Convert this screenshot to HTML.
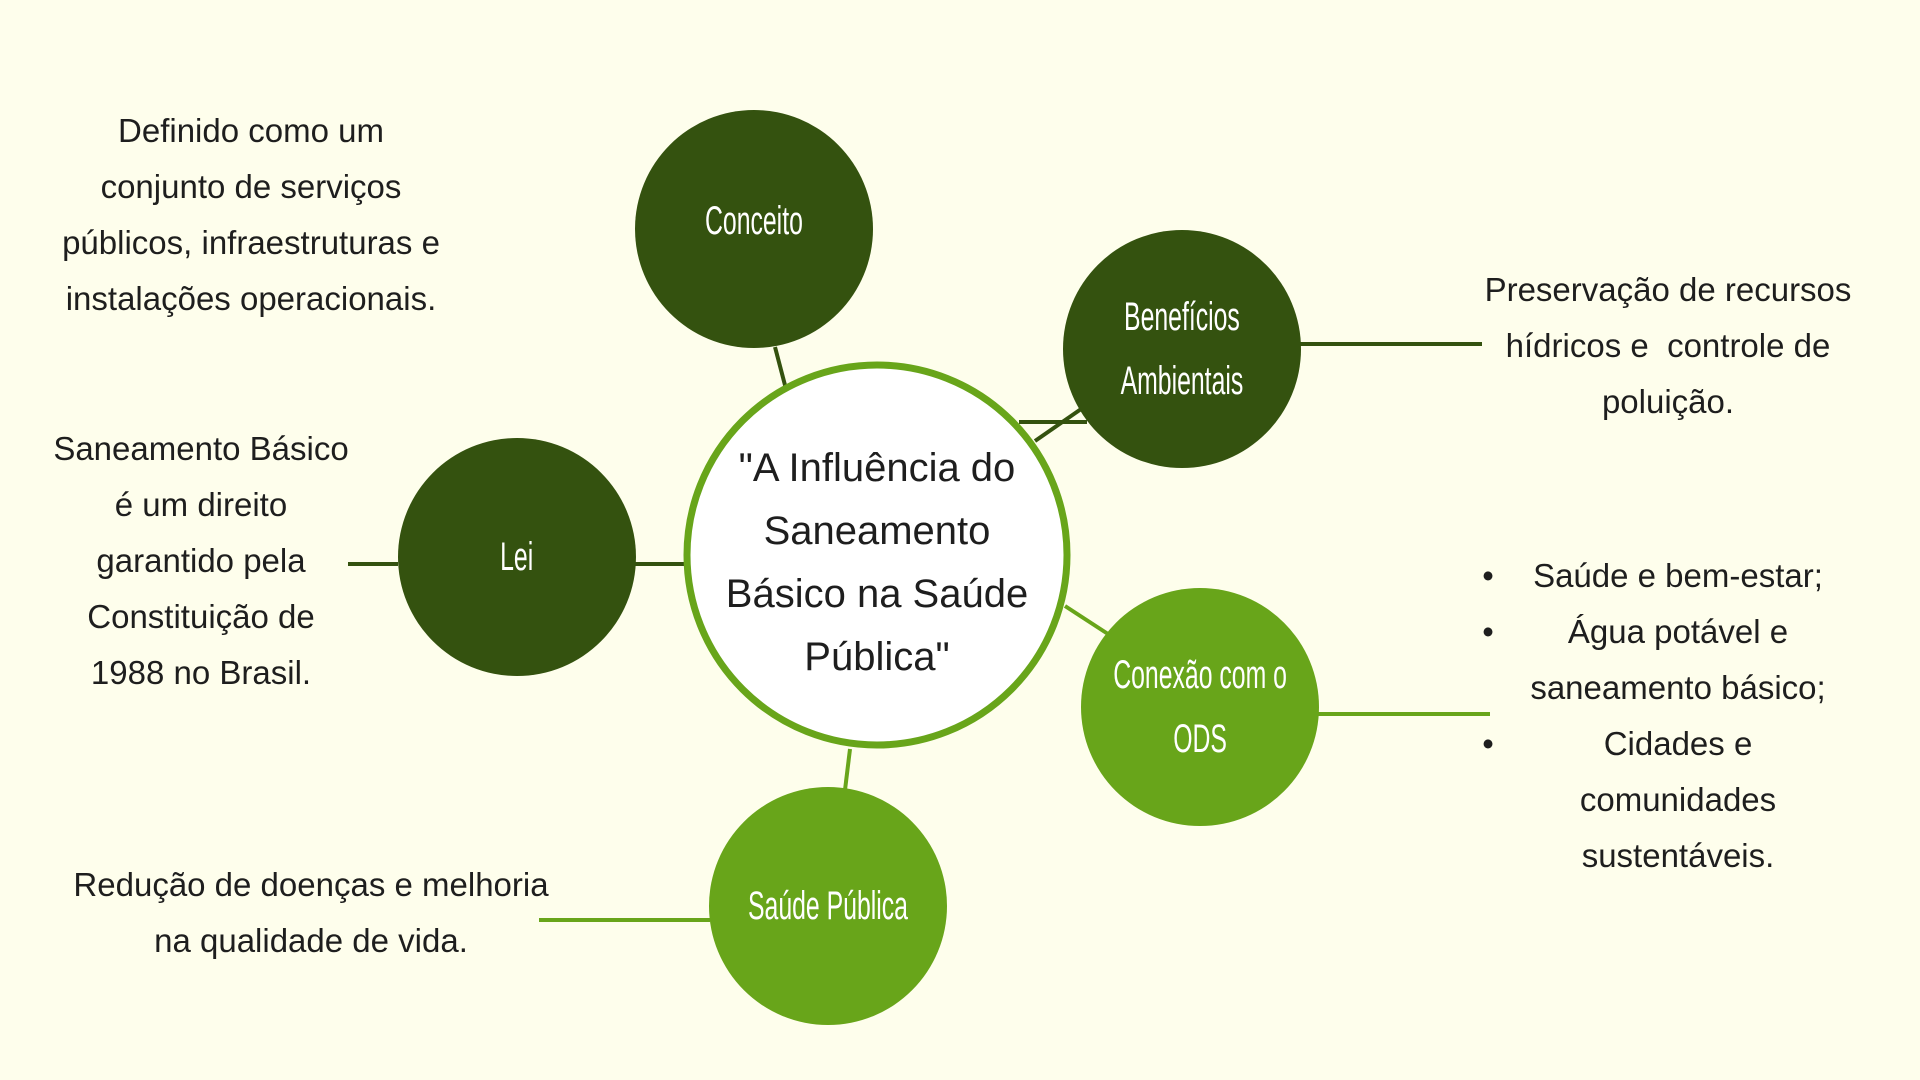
<!DOCTYPE html>
<html><head><meta charset="utf-8"><style>
html,body{margin:0;padding:0}
body{width:1920px;height:1080px;background:#fefeec;position:relative;overflow:hidden;font-family:"Liberation Sans",sans-serif;color:#1e1e1e}
.t{position:absolute;text-align:center;font-size:33px;line-height:56px;white-space:nowrap;transform:translateX(-50%)}
.c{position:absolute;border-radius:50%;display:flex;align-items:center;justify-content:center;text-align:center;color:#fff;font-family:"Liberation Sans",sans-serif;font-size:40px;line-height:64px;white-space:nowrap}
.c span{display:inline-block;transform:scaleX(0.62)}
.d{background:#34520f}.l{background:#68a51a}
svg{position:absolute;left:0;top:0}
</style></head><body>
<svg width="1920" height="1080">
<g stroke-width="4" fill="none">
<line x1="775" y1="347" x2="786" y2="389" stroke="#34520f"/>
<line x1="1019" y1="422" x2="1087" y2="422" stroke="#34520f"/>
<line x1="1035" y1="441" x2="1084" y2="407" stroke="#34520f"/>
<line x1="1298" y1="344" x2="1482" y2="344" stroke="#34520f"/>
<line x1="348" y1="564" x2="398" y2="564" stroke="#34520f"/>
<line x1="634" y1="564" x2="686" y2="564" stroke="#34520f"/>
<line x1="1065" y1="606" x2="1108" y2="634" stroke="#68a51a"/>
<line x1="1316" y1="714" x2="1490" y2="714" stroke="#68a51a"/>
<line x1="850" y1="749" x2="845" y2="790" stroke="#68a51a"/>
<line x1="539" y1="920" x2="710" y2="920" stroke="#68a51a"/>
</g>
<circle cx="877" cy="555" r="190" fill="#fff" stroke="#68a51a" stroke-width="7"/>
</svg>
<div class="c d" style="left:635px;top:110px;width:238px;height:238px"><span style="margin-top:-16px">Conceito</span></div>
<div class="c d" style="left:1063px;top:230px;width:238px;height:238px"><span>Benefícios<br>Ambientais</span></div>
<div class="c d" style="left:398px;top:438px;width:238px;height:238px"><span>Lei</span></div>
<div class="c l" style="left:1081px;top:588px;width:238px;height:238px"><span>Conexão com o<br>ODS</span></div>
<div class="c l" style="left:709px;top:787px;width:238px;height:238px"><span>Saúde Pública</span></div>
<div class="t" style="left:877px;top:437px;font-size:40px;line-height:63px">"A Influência do<br>Saneamento<br>Básico na Saúde<br>Pública"</div>
<div class="t" style="left:251px;top:103px">Definido como um<br>conjunto de serviços<br>públicos, infraestruturas e<br>instalações operacionais.</div>
<div class="t" style="left:201px;top:421px">Saneamento Básico<br>é um direito<br>garantido pela<br>Constituição de<br>1988 no Brasil.</div>
<div class="t" style="left:1668px;top:262px">Preservação de recursos<br>hídricos e &nbsp;controle de<br>poluição.</div>
<div class="t" style="left:1678px;top:548px">Saúde e bem-estar;<br>Água potável e<br>saneamento básico;<br>Cidades e<br>comunidades<br>sustentáveis.</div>
<div class="t" style="left:1488px;top:548px;line-height:56px">•<br>•<br><br>•</div>
<div class="t" style="left:311px;top:857px">Redução de doenças e melhoria<br>na qualidade de vida.</div>
</body></html>
